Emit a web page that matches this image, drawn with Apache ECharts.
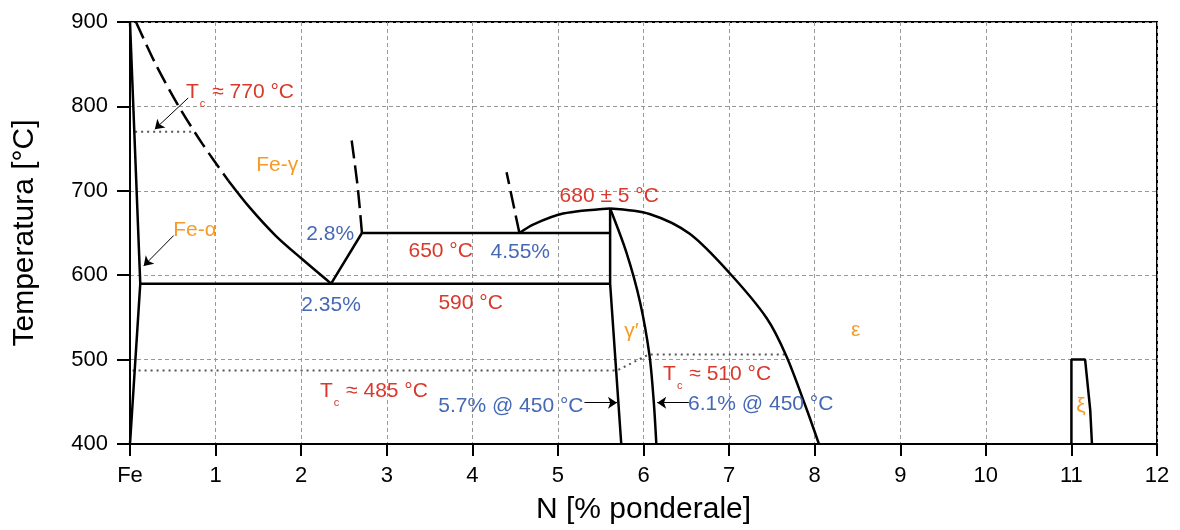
<!DOCTYPE html>
<html>
<head>
<meta charset="utf-8">
<script src="https://cdn.jsdelivr.net/npm/echarts@6/dist/echarts.min.js"></script>
<style>
  html, body { margin: 0; padding: 0; background: #fff; }
  #chart { width: 1180px; height: 530px; }
</style>
</head>
<body>
<div id="chart"></div>
<script>
  // limiti del diagramma Fe-N (N in % ponderale, T in °C)
  var alphaLine = [[0, 900], [0.12, 590], [0, 400]];
  var gammaDashed = [[0.07, 900], [0.3, 850], [0.57, 800], [0.85, 755], [1.15, 712]];
  var gammaSolid = [[1.15, 712], [1.4, 680], [1.7, 647], [2.0, 620], [2.35, 590]];
  var eutectoid650 = [[2.35, 590], [2.71, 650], [5.61, 650]];
  var eutectoid590 = [[0.12, 590], [5.61, 590]];
  var dashed28 = [[2.71, 650], [2.66, 705], [2.58, 767]];
  var dashed455 = [[4.55, 650], [4.4, 722]];
  var domeLeft = [[4.55, 650], [4.71, 660], [5.06, 673], [5.61, 679]];
  var domeRight = [[5.61, 679], [6.07, 672.5], [6.54, 649], [7.01, 602], [7.44, 549],
    [7.67, 504], [7.9, 443], [8.05, 400]];
  var gpLeft = [[5.61, 679], [5.61, 590], [5.74, 400]];
  var gpRight = [[5.61, 679], [5.8, 627], [5.96, 568], [6.07, 505], [6.12, 450], [6.15, 400]];
  var xiPhase = [[11.0, 400], [11.0, 500], [11.16, 500], [11.19, 470], [11.22, 440], [11.24, 400]];
  var curie770 = [[0.06, 770], [0.72, 770]];
  var curie485 = [[0.03, 487], [5.69, 487], [6.06, 506], [7.65, 506]];

  var arrows = [
    [[0.68, 810], [0.29, 773]],
    [[0.51, 647], [0.16, 611]],
    [[5.31, 449], [5.69, 449]],
    [[6.53, 449], [6.16, 449]]
  ];

  var redLabels = [
    [1.285, 820, 'Tc ≈ 770 °C'],
    [3.63, 631, '650 °C'],
    [3.98, 570, '590 °C'],
    [5.6, 696, '680 ± 5 °C'],
    [6.86, 486, 'Tc ≈ 510 °C'],
    [2.85, 466, 'Tc ≈ 485 °C']
  ];
  var blueLabels = [
    [2.34, 651, '2.8%'],
    [2.35, 568, '2.35%'],
    [4.56, 630, '4.55%'],
    [7.37, 450, '6.1% @ 450 °C'],
    [4.45, 448, '5.7% @ 450 °C']
  ];
  var orangeLabels = [
    [1.72, 733, 'Fe-γ'],
    [0.76, 656, 'Fe-α'],
    [5.86, 537, 'γ′'],
    [8.48, 538, 'ε'],
    [11.11, 448, 'ξ']
  ];

  var FONT = 'Liberation Sans, Arial, Helvetica, sans-serif';

  function solid(data, smooth) {
    return {
      type: 'line', data: data, showSymbol: false, smooth: smooth || false,
      lineStyle: {color: '#000', width: 2.5}, silent: true, z: 3
    };
  }
  function dashed(data, smooth) {
    var s = solid(data, smooth);
    s.lineStyle = {color: '#000', width: 2.5, type: [18, 7]};
    return s;
  }
  function dotted(data) {
    return {
      type: 'line', data: data, showSymbol: false,
      lineStyle: {color: '#555', width: 2, type: [2, 4]}, silent: true, z: 2
    };
  }
  function labels(arr, color) {
    return {
      type: 'scatter', symbolSize: 1, itemStyle: {color: 'rgba(0,0,0,0)', opacity: 1}, silent: true, z: 5,
      data: arr.map(function (d) { return {value: [d[0], d[1]], name: d[2]}; }),
      label: {
        show: true, position: 'inside', offset: [0, 3], opacity: 1,
        color: color, fontFamily: FONT, fontSize: 21,
        formatter: function (p) {
          var t = p.name;
          if (t.indexOf('Tc') === 0) {
            return '{m|T}{s|c}{m|' + t.slice(2) + '}';
          }
          return '{m|' + t + '}';
        },
        rich: {
          m: {color: color, fontFamily: FONT, fontSize: 21, lineHeight: 22, verticalAlign: 'top'},
          s: {color: color, fontFamily: FONT, fontSize: 11, lineHeight: 11, verticalAlign: 'top', padding: [17, 1, 0, 1]}
        }
      }
    };
  }

  var myChart = echarts.init(document.getElementById('chart'));
  myChart.setOption({
    animation: false,
    backgroundColor: '#fff',
    grid: {left: 130, right: 23, top: 22, bottom: 84, show: true, borderColor: '#000', borderWidth: 2},
    xAxis: {
      type: 'value', min: 0, max: 12, interval: 1,
      name: 'N [% ponderale]', nameLocation: 'middle', nameGap: 51,
      nameTextStyle: {color: '#000', fontSize: 30, fontFamily: FONT},
      axisLine: {lineStyle: {color: '#000', width: 2}},
      axisTick: {length: 12, lineStyle: {color: '#000', width: 2}},
      axisLabel: {
        color: '#000', fontSize: 22, fontFamily: FONT, margin: 21,
        formatter: function (v) { return v === 0 ? 'Fe' : v; }
      },
      splitLine: {lineStyle: {color: '#999', width: 1, type: [4, 3]}}
    },
    yAxis: {
      type: 'value', min: 400, max: 900, interval: 100,
      name: 'Temperatura [°C]', nameLocation: 'middle', nameGap: 90, nameRotate: 90,
      nameTextStyle: {color: '#000', fontSize: 30, fontFamily: FONT},
      axisLine: {show: true, lineStyle: {color: '#000', width: 2}},
      axisTick: {show: true, length: 13, lineStyle: {color: '#000', width: 2}},
      axisLabel: {color: '#000', fontSize: 22, fontFamily: FONT, margin: 22},
      splitLine: {lineStyle: {color: '#999', width: 1, type: [4, 3]}}
    },
    series: [
      dotted(curie770),
      dotted(curie485),
      solid(alphaLine),
      dashed(gammaDashed, 0.3),
      solid(gammaSolid, 0.3),
      solid(eutectoid650),
      solid(eutectoid590),
      dashed(dashed28, 0.3),
      dashed(dashed455),
      solid(domeLeft, 0.3),
      solid(domeRight, 0.3),
      solid(gpLeft),
      solid(gpRight, 0.3),
      solid(xiPhase),
      {
        type: 'lines', coordinateSystem: 'cartesian2d', silent: true, z: 4,
        symbol: ['none', 'arrow'], symbolSize: 9,
        lineStyle: {color: '#000', width: 1, opacity: 1},
        data: arrows.map(function (a) { return {coords: a}; })
      },
      labels(redLabels, '#d9382c'),
      labels(blueLabels, '#4569b5'),
      labels(orangeLabels, '#f59b2a')
    ]
  });
</script>
</body>
</html>
